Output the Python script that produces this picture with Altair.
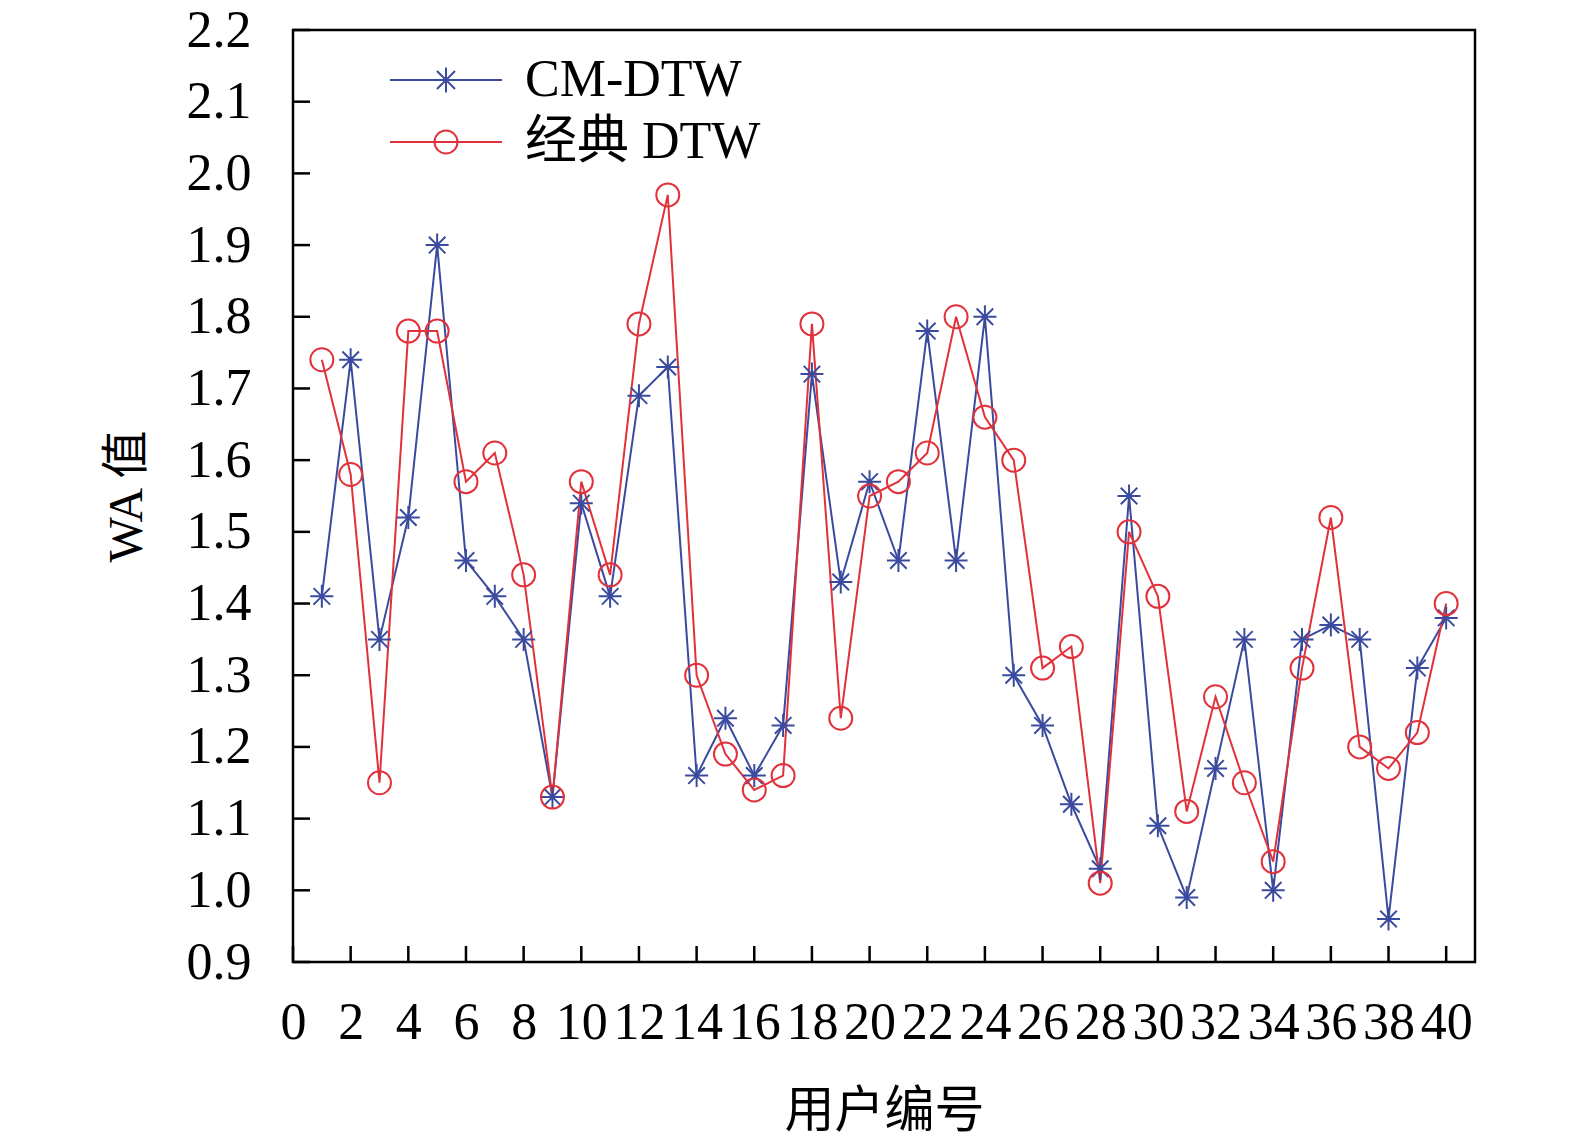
import altair as alt
import pandas as pd

users = list(range(1, 41))
cm_dtw = [1.41, 1.74, 1.35, 1.52, 1.90, 1.46, 1.41, 1.35, 1.13, 1.54,
          1.41, 1.69, 1.73, 1.16, 1.24, 1.16, 1.23, 1.72, 1.43, 1.57,
          1.46, 1.78, 1.46, 1.80, 1.30, 1.23, 1.12, 1.03, 1.55, 1.09,
          0.99, 1.17, 1.35, 1.00, 1.35, 1.37, 1.35, 0.96, 1.31, 1.38]
classic_dtw = [1.74, 1.58, 1.15, 1.78, 1.78, 1.57, 1.61, 1.44, 1.13, 1.57,
               1.44, 1.79, 1.97, 1.30, 1.19, 1.14, 1.16, 1.79, 1.24, 1.55,
               1.57, 1.61, 1.80, 1.66, 1.60, 1.31, 1.34, 1.01, 1.50, 1.41,
               1.11, 1.27, 1.15, 1.04, 1.31, 1.52, 1.20, 1.17, 1.22, 1.40]
series_names = ["CM-DTW", "经典 DTW"]
x_tick_values = [0, 2, 4, 6, 8, 10, 12, 14, 16, 18, 20, 22, 24, 26, 28, 30, 32, 34, 36, 38, 40]
y_tick_values = [0.9, 1.0, 1.1, 1.2, 1.3, 1.4, 1.5, 1.6, 1.7, 1.8, 1.9, 2.0, 2.1, 2.2]
x_title = "用户编号"
y_title = "WA 值"

df = pd.DataFrame({
    "user": users + users,
    "value": cm_dtw + classic_dtw,
    "series": [series_names[0]] * len(users) + [series_names[1]] * len(users),
})
xt_df = pd.DataFrame({"v": x_tick_values})
yt_df = pd.DataFrame({"v": y_tick_values})

W, H = 1182, 932
FONT = "Liberation Serif, Times New Roman, Noto Sans CJK SC"
BLUE = "#3a4b9f"
RED = "#e1323b"
COLORS = [BLUE, RED]
STAR = "M-1,0H1M0,-1V1M-0.72,-0.72L0.72,0.72M-0.72,0.72L0.72,-0.72"
LEG_STAR = "M-2.24,0H2.24M0,-0.5V0.5M-0.36,-0.36L0.36,0.36M-0.36,0.36L0.36,-0.36"
LEG_CIRC = "M-2.24,0H2.24M-0.46,0A0.46,0.46 0 1,0 0.46,0A0.46,0.46 0 1,0 -0.46,0"
LEG_SHAPES = [LEG_STAR, LEG_CIRC]
LEG_Y = [24, 86]

xs = alt.Scale(domain=[0, 41], nice=False, zero=False)
ys = alt.Scale(domain=[0.9, 2.2], nice=False, zero=False)

x_axis = alt.Axis(values=x_tick_values, title=x_title, grid=False, ticks=False, domain=False,
                  labelFont=FONT, labelFontSize=52, labelColor="black", labelPadding=35,
                  labelOverlap=False, labelFlush=False, labelBound=False,
                  titleFont=FONT, titleFontSize=50, titleFontWeight="normal", titleColor="black",
                  titlePadding=38)
y_axis = alt.Axis(values=y_tick_values, format=".1f", title=y_title, grid=False, ticks=False,
                  domain=False, labelFont=FONT, labelFontSize=52, labelColor="black",
                  labelPadding=42, labelOverlap=False, labelFlush=False,
                  titleFont=FONT, titleFontSize=48, titleFontWeight="normal", titleColor="black",
                  titlePadding=35)

color_scale = alt.Scale(domain=series_names, range=COLORS)

lines = alt.Chart(df).mark_line(strokeWidth=2).encode(
    x=alt.X("user:Q", scale=xs, axis=x_axis),
    y=alt.Y("value:Q", scale=ys, axis=y_axis),
    color=alt.Color("series:N", scale=color_scale, legend=None),
)
points = alt.Chart(df).mark_point(filled=False, strokeWidth=2, size=529, opacity=1).encode(
    x=alt.X("user:Q", scale=xs),
    y=alt.Y("value:Q", scale=ys),
    color=alt.Color("series:N", scale=color_scale, legend=None),
    shape=alt.Shape("series:N", scale=alt.Scale(domain=series_names, range=[STAR, "circle"]), legend=None),
)

legend_layers = []
for name, col, shp, ly in zip(series_names, COLORS, LEG_SHAPES, LEG_Y):
    leg = alt.Legend(
        title=None, orient="none", legendX=127, legendY=ly, padding=0,
        symbolSize=2500, symbolStrokeWidth=2, symbolOpacity=1,
        symbolFillColor="transparent", symbolStrokeColor=col,
        labelFont=FONT, labelFontSize=52, labelColor="black", labelOffset=53, labelLimit=0,
    )
    legend_layers.append(
        alt.Chart(df).transform_filter("datum.user < 0").mark_point(filled=False, strokeWidth=2).encode(
            x=alt.X("user:Q", scale=xs),
            y=alt.Y("value:Q", scale=ys),
            shape=alt.Shape("series:N", scale=alt.Scale(domain=[name], range=[shp]), legend=leg),
        )
    )

yticks = alt.Chart(yt_df).mark_rule(color="black", strokeWidth=2.5).encode(
    y=alt.Y("v:Q", scale=ys), x=alt.value(0), x2=alt.value(17),
)
xticks = alt.Chart(xt_df).mark_rule(color="black", strokeWidth=2.5).encode(
    x=alt.X("v:Q", scale=xs), y=alt.value(H), y2=alt.value(H - 16),
)

chart = alt.layer(lines, points, *legend_layers, yticks, xticks).resolve_scale(
    shape="independent"
).properties(
    width=W, height=H,
    autosize=alt.AutoSizeParams(type="none"),
    padding={"left": 285, "top": 22, "right": 60, "bottom": 172},
    background="white",
).configure_view(stroke="black", strokeWidth=2.5)

chart.save("out.html", embed_options={"renderer": "svg", "actions": False})
